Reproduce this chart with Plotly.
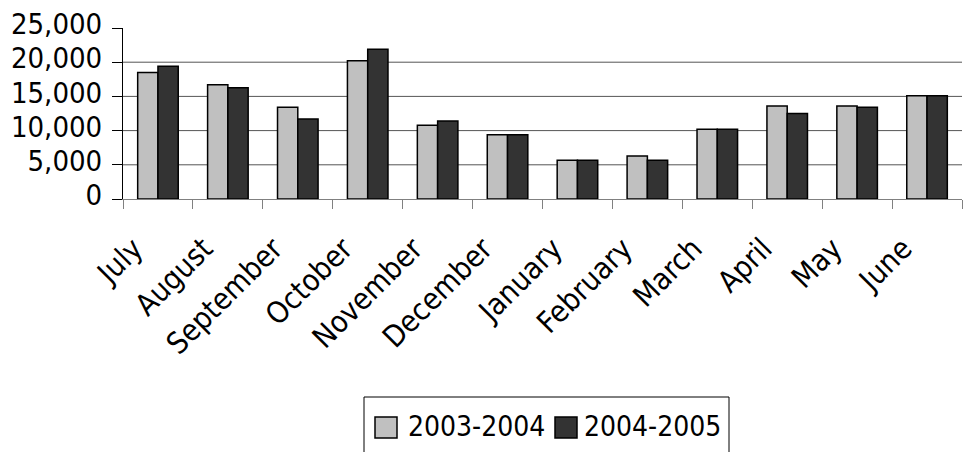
import plotly.graph_objects as go

# Monthly totals for two fiscal years (July - June)
months = ["July", "August", "September", "October", "November", "December",
          "January", "February", "March", "April", "May", "June"]
series_names = ["2003-2004", "2004-2005"]
values_2003_2004 = [18500, 16700, 13400, 20200, 10800, 9400,
                    5650, 6300, 10200, 13600, 13600, 15100]
values_2004_2005 = [19400, 16250, 11700, 21900, 11400, 9400,
                    5650, 5650, 10200, 12500, 13400, 15100]
y_ticks = [0, 5000, 10000, 15000, 20000, 25000]
grid_values = [5000, 10000, 15000, 20000]

fill_colors = ["#C0C0C0", "#333333"]
FONT = "DejaVu Sans Condensed, DejaVu Sans, sans-serif"

W, H = 963, 452
L, R, T, B = 123, 1, 28, 253
plot_w = W - L - R
plot_h = H - T - B

fig = go.Figure()
for name, vals, col in zip(series_names, [values_2003_2004, values_2004_2005], fill_colors):
    fig.add_trace(go.Bar(
        x=months, y=vals, name=name,
        marker=dict(color=col, line=dict(color="#000000", width=1.5)),
    ))

# horizontal gridlines
for v in grid_values:
    fig.add_shape(type="line", xref="paper", x0=0, x1=1, yref="y", y0=v, y1=v,
                  line=dict(color="#555555", width=1), layer="below")


def px_x(p):
    return (p - L) / plot_w


def px_y(p):
    return (T + plot_h - p) / plot_h


# boxed legend below the chart
fig.add_shape(type="rect", xref="paper", yref="paper",
              x0=px_x(364), x1=px_x(729), y0=px_y(397), y1=px_y(455),
              line=dict(color="#000000", width=1), fillcolor="white")
legend_items = [(375, 406), (555, 582)]
for (sx, tx), name, col in zip(legend_items, series_names, fill_colors):
    fig.add_shape(type="rect", xref="paper", yref="paper",
                  x0=px_x(sx), x1=px_x(sx + 22), y0=px_y(417), y1=px_y(438),
                  line=dict(color="#000000", width=1.5), fillcolor=col)
    fig.add_annotation(text=name, xref="paper", yref="paper",
                       x=px_x(tx), y=px_y(427), xanchor="left", yanchor="middle",
                       showarrow=False, font=dict(family=FONT, size=28, color="black"))

fig.update_layout(
    width=W, height=H,
    margin=dict(l=L, r=R, t=T, b=B, pad=0),
    paper_bgcolor="white", plot_bgcolor="white",
    barmode="group", bargap=0.42, bargroupgap=0,
    showlegend=False,
    font=dict(family=FONT, size=28, color="black"),
)
fig.update_yaxes(
    range=[0, 25000], tickvals=y_ticks, tickformat=",",
    showline=True, linecolor="#000000", linewidth=1,
    ticks="outside", ticklen=10, tickcolor="#000000",
    showgrid=False, zeroline=False, ticklabelshift=-4, ticklabelstandoff=4,
    tickfont=dict(size=29),
)
fig.update_xaxes(
    type="category", showline=True, linecolor="#808080", linewidth=1,
    ticks="outside", tickson="boundaries", ticklen=9, tickcolor="#808080",
    tickangle=-45, showgrid=False, ticklabelstandoff=19, ticklabelshift=-24,
    tickfont=dict(size=30),
)

fig.write_html("out.html")
